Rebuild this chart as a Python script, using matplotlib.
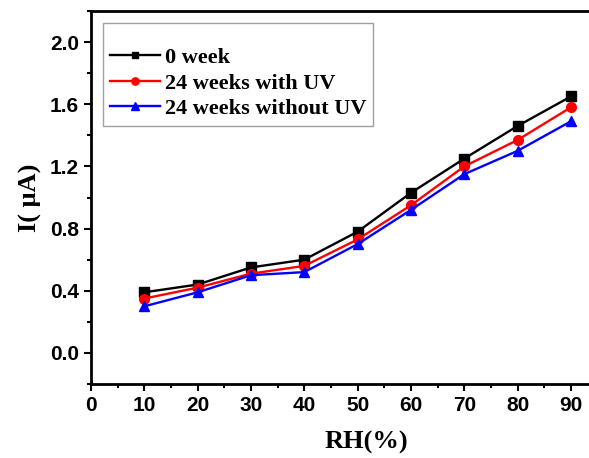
import matplotlib
matplotlib.use("Agg")
import matplotlib.pyplot as plt
from matplotlib.ticker import MultipleLocator

# data
rh = [10, 20, 30, 40, 50, 60, 70, 80, 90]
week0 = [0.39, 0.44, 0.55, 0.60, 0.78, 1.03, 1.25, 1.46, 1.65]
with_uv = [0.35, 0.42, 0.51, 0.56, 0.73, 0.95, 1.20, 1.37, 1.58]
without_uv = [0.30, 0.39, 0.50, 0.52, 0.70, 0.92, 1.15, 1.30, 1.49]
labels = ["0 week", "24 weeks with UV", "24 weeks without UV"]

W, H = 589, 458
fig = plt.figure(figsize=(W / 100, H / 100), dpi=100)
ax = fig.add_axes([91 / W, 74 / H, 1 - 91 / W, 373 / H])

ax.plot(rh, week0, color="black", marker="s", ms=6.5, lw=1.7, label=labels[0])
ax.plot(rh, with_uv, color="red", marker="o", ms=7, lw=1.7, label=labels[1])
ax.plot(rh, without_uv, color="blue", marker="^", ms=7.5, lw=1.7, label=labels[2])

ax.set_xlim(0, 93.4)
ax.set_ylim(-0.2, 2.2)
ax.xaxis.set_major_locator(MultipleLocator(10))
ax.xaxis.set_minor_locator(MultipleLocator(5))
ax.yaxis.set_major_locator(MultipleLocator(0.4))
ax.yaxis.set_minor_locator(MultipleLocator(0.2))
ax.tick_params(which="both", direction="out", width=1.5, top=False, right=False)
ax.tick_params(which="major", length=5)
ax.tick_params(which="minor", length=3)
for lab in ax.get_xticklabels() + ax.get_yticklabels():
    lab.set_family("Liberation Sans")
    lab.set_weight("bold")
    lab.set_size(15)
ax.set_yticklabels(["%.1f" % v for v in ax.get_yticks()])

for s in ["left", "bottom", "top"]:
    ax.spines[s].set_linewidth(2)
ax.spines["right"].set_visible(False)

serif = {"family": "Liberation Serif", "weight": "bold", "size": 19}
ax.set_xlabel("RH(%)", fontdict=serif)
ax.xaxis.set_label_coords((366 - 91) / (W - 91), -0.127)
ax.set_ylabel("I( μA)", fontdict=serif, labelpad=6)

leg = ax.legend(loc="upper left", bbox_to_anchor=(103 / W, 1 - 23 / H),
                bbox_transform=fig.transFigure, borderaxespad=0,
                prop={"family": "Liberation Serif", "weight": "bold", "size": 16},
                title=" ", title_fontproperties={"size": 9},
                fancybox=False, handlelength=2.25, handletextpad=0.25,
                labelspacing=0.22, borderpad=0.3, markerscale=0.75)
leg.get_frame().set_edgecolor("#888888")
leg.get_frame().set_linewidth(1)

fig.savefig("out.png", dpi=100)
